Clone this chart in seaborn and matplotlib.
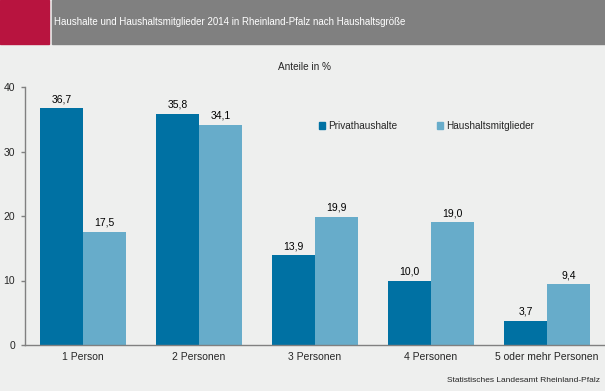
import matplotlib
matplotlib.use("Agg")
import matplotlib.pyplot as plt
from matplotlib.patches import Rectangle, Patch
import seaborn as sns
import pandas as pd

# data
categories = ['1 Person', '2 Personen', '3 Personen', '4 Personen', '5 oder mehr Personen']
privathaushalte = [36.7, 35.8, 13.9, 10.0, 3.7]
haushaltsmitglieder = [17.5, 34.1, 19.9, 19.0, 9.4]
series_names = ['Privathaushalte', 'Haushaltsmitglieder']
y_ticks = [0, 10, 20, 30, 40]

df = pd.DataFrame({
    'Kategorie': categories * 2,
    'Serie': [series_names[0]] * len(categories) + [series_names[1]] * len(categories),
    'Wert': privathaushalte + haushaltsmitglieder,
})

bg = '#EEEFEE'
dark = '#0071A3'
light = '#67ACCA'
axis_grey = '#808080'

sns.set_theme(style='white')
plt.rcParams['font.family'] = ['Liberation Sans', 'DejaVu Sans']

fig = plt.figure(figsize=(6.05, 3.91), dpi=100, facecolor=bg)
ax = fig.add_axes([25 / 605, 46 / 391, 580 / 605, 258 / 391])
ax.set_facecolor(bg)

sns.barplot(data=df, x='Kategorie', y='Wert', hue='Serie', order=categories,
            hue_order=series_names, palette=[dark, light], width=0.74,
            saturation=1, linewidth=0, ax=ax, legend=False)

for cont in ax.containers:
    vals = [b.get_height() for b in cont]
    ax.bar_label(cont, labels=[f'{v:.1f}'.replace('.', ',') for v in vals],
                 padding=3, fontsize=7.5, color='black')

ax.set_xlim(-0.5, len(categories) - 0.5)
ax.set_ylim(0, 40)
ax.set_yticks(y_ticks)
ax.set_yticklabels([str(t) for t in y_ticks], fontsize=7.5)
ax.set_xticks(range(len(categories)))
ax.set_xticklabels(categories, fontsize=7.5)
ax.set_xticks([i - 0.5 for i in range(len(categories))], minor=True)
ax.tick_params(axis='x', which='major', length=0, pad=5)
ax.tick_params(axis='x', which='minor', length=3, color=axis_grey, width=1, direction='out')
ax.tick_params(axis='y', length=3, color=axis_grey, width=1, direction='out', pad=4, left=True)
ax.set_xlabel('')
ax.set_ylabel('')
for side in ['top', 'right']:
    ax.spines[side].set_visible(False)
for side in ['left', 'bottom']:
    ax.spines[side].set_color(axis_grey)
    ax.spines[side].set_linewidth(1)

# legend
handles = [Patch(color=dark, label=series_names[0]), Patch(color=light, label=series_names[1])]
fig.legend(handles=handles, ncol=2, frameon=False, fontsize=7.2,
           loc='center left', bbox_to_anchor=(310 / 605, 1 - 126 / 391),
           handlelength=0.6, handleheight=0.6, handletextpad=0.3,
           columnspacing=4.0)

# header band
fig.patches.append(Rectangle((0, 1 - 44 / 391), 49 / 605, 44 / 391,
                             transform=fig.transFigure, color='#B8143F', zorder=0))
fig.patches.append(Rectangle((52 / 605, 1 - 44 / 391), 553 / 605, 44 / 391,
                             transform=fig.transFigure, color='#808080', zorder=0))
fig.text(54 / 605, 1 - 22 / 391,
         'Haushalte und Haushaltsmitglieder 2014 in Rheinland-Pfalz nach Haushaltsgröße',
         color='white', fontsize=7, va='center', ha='left')

fig.text(304 / 605, 1 - 67 / 391, 'Anteile in %', fontsize=7.2, ha='center', va='center')
fig.text(600 / 605, 1 - 381 / 391, 'Statistisches Landesamt Rheinland-Pfalz',
         fontsize=6, ha='right', va='center')

plt.savefig('out.png', dpi=100, facecolor=bg)
plt.close('all')
